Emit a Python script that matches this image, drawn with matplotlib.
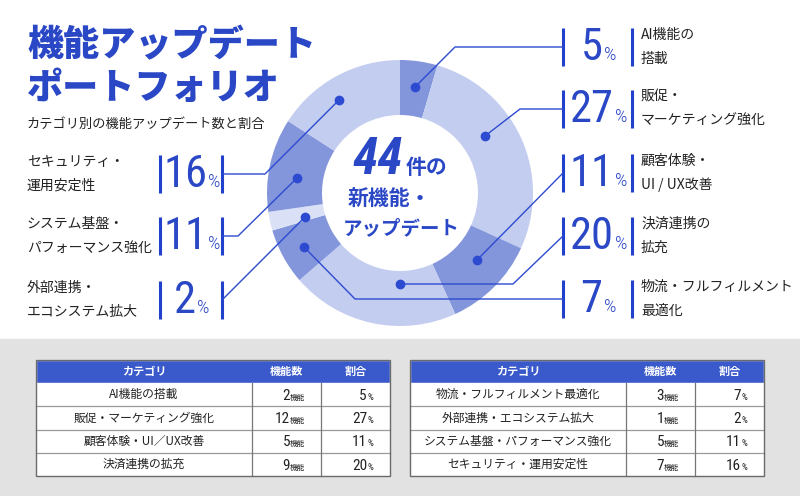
import matplotlib
matplotlib.use('Agg')
import matplotlib.pyplot as plt
from matplotlib.patches import Rectangle
from matplotlib.offsetbox import TextArea, HPacker, AnnotationBbox
from matplotlib import font_manager as fm

plt.rcParams['font.family'] = ['Noto Sans CJK JP', 'DejaVu Sans']

# ---------------- data ----------------
categories = ['AI機能の搭載', '販促・マーケティング強化', '顧客体験・UI／UX改善', '決済連携の拡充',
              '物流・フルフィルメント最適化', '外部連携・エコシステム拡大',
              'システム基盤・パフォーマンス強化', 'セキュリティ・運用安定性']
counts = [2, 12, 5, 9, 3, 1, 5, 7]
shares = [5, 27, 11, 20, 7, 2, 11, 16]
label_top = ['AI機能の', '販促・', '顧客体験・', '決済連携の', '物流・フルフィルメント',
             '外部連携・', 'システム基盤・', 'セキュリティ・']
label_bottom = ['搭載', 'マーケティング強化', 'UI / UX改善', '拡充', '最適化',
                'エコシステム拡大', 'パフォーマンス強化', '運用安定性']
headers = ['カテゴリ', '機能数', '割合']
total = sum(counts)

# ---------------- style ----------------
BLUE = '#2a47c6'
BAR = '#2140cc'
LINE = '#2d4bd0'
DARK = '#8395db'
LIGHT = '#c3cdf0'
PALE = '#dae1f7'
TXT = '#222222'
# narrow face for the numbers (falls back if missing)
names = {f.name for f in fm.fontManager.ttflist}
NUM = next((n for n in ['Roboto Condensed', 'Liberation Sans Narrow', 'Roboto'] if n in names),
           'DejaVu Sans')
seg_colors = [DARK, LIGHT, DARK, LIGHT, DARK, PALE, DARK, LIGHT]

fig = plt.figure(figsize=(8, 4.96), dpi=100)
ax = fig.add_axes([0, 0, 1, 1])

# donut (pixel coordinates, y downwards -> clockwise from top)
ax.pie(counts, colors=seg_colors, startangle=-90, counterclock=True,
       center=(400, 193), radius=133, frame=True,
       wedgeprops=dict(width=55, linewidth=0))
ax.set_xlim(0, 800)
ax.set_ylim(496, 0)
ax.set_aspect('equal')
ax.axis('off')

# grey band for the tables
ax.add_patch(Rectangle((0, 339), 800, 157, color='#e2e2e2', zorder=0))

# titles
ax.text(27, 45, '機能アップデート', fontsize=26, weight='black', color=BLUE, va='center')
ax.text(27, 88, 'ポートフォリオ', fontsize=26, weight='black', color=BLUE, va='center')
ax.text(27, 124, 'カテゴリ別の機能アップデート数と割合', fontsize=9.5, color=TXT, va='center')

# centre text
a = TextArea(str(total), textprops=dict(fontsize=37, weight='bold', style='italic',
                                        color=BLUE, family=NUM))
b = TextArea('件の', textprops=dict(fontsize=15, weight='bold', color=BLUE))
ax.add_artist(AnnotationBbox(HPacker(children=[a, b], align='baseline', pad=0, sep=2),
                             (400, 160), xycoords='data', box_alignment=(0.5, 0.5),
                             frameon=False, pad=0))
ax.text(389, 199, '新機能・', fontsize=15, weight='bold', color=BLUE, ha='center', va='center')
ax.text(401, 229, 'アップデート', fontsize=14, weight='bold', color=BLUE, ha='center', va='center')

# callouts: (index, side, row y, leader path starting at the dot)
callouts = [
    (0, 'R', 47, [(415, 87), (455, 47), (563, 47)]),
    (1, 'R', 109, [(485, 136), (520, 109), (563, 109)]),
    (2, 'R', 173, [(477, 260), (563, 173)]),
    (3, 'R', 236, [(400, 284), (513, 284), (563, 236)]),
    (4, 'R', 299, [(304, 247), (355, 299), (563, 299)]),
    (5, 'L', 300, [(305, 217), (222, 300)]),
    (6, 'L', 236, [(297, 178), (238, 236), (222, 236)]),
    (7, 'L', 174, [(339, 100), (265, 174), (222, 174)]),
]

for i, side, yc, path in callouts:
    xs = [p[0] for p in path]
    ys = [p[1] for p in path]
    ax.plot(xs, ys, color=LINE, lw=1, zorder=3)
    ax.plot(xs[0], ys[0], 'o', ms=6, color=LINE, zorder=4)
    if side == 'R':
        x1, x2, xt = 563, 632, 641
    else:
        x1, x2, xt = 160, 222, 27
    for xb in (x1, x2):
        ax.plot([xb, xb], [yc - 19, yc + 19], color=BAR, lw=2.2, solid_capstyle='butt')
    n = TextArea(str(shares[i]), textprops=dict(fontsize=32, color=BLUE, family=NUM))
    p = TextArea('%', textprops=dict(fontsize=14, weight='light', color=BLUE, family=NUM))
    ax.add_artist(AnnotationBbox(HPacker(children=[n, p], align='baseline', pad=0, sep=1),
                                 ((x1 + x2) / 2 + 1, yc + 1), xycoords='data',
                                 box_alignment=(0.5, 0.5), frameon=False, pad=0))
    ax.text(xt, yc - 12, label_top[i], fontsize=10, color=TXT, va='center')
    ax.text(xt, yc + 12, label_bottom[i], fontsize=10, color=TXT, va='center')

# tables
widths = [216, 69, 69]
HEAD_H, ROW_H, TOP = 23, 23.3, 360


def draw_table(x0, rows):
    edges = [x0, x0 + widths[0], x0 + widths[0] + widths[1], x0 + sum(widths)]
    ax.add_patch(Rectangle((x0, TOP), sum(widths), HEAD_H, fc='#3a5acb', ec='white', lw=1, zorder=2))
    for j, h in enumerate(headers):
        ax.text((edges[j] + edges[j + 1]) / 2, TOP + HEAD_H / 2, h, color='white',
                fontsize=8, weight='bold', ha='center', va='center', zorder=3)
    body_top = TOP + HEAD_H
    ax.add_patch(Rectangle((x0, body_top), sum(widths), ROW_H * len(rows), fc='white',
                           ec='none', zorder=1))
    for r, i in enumerate(rows):
        y = body_top + r * ROW_H
        if r > 0:
            ax.plot([x0, edges[-1]], [y, y], color='#9a9a9a', lw=0.9, zorder=2)
        ym = y + ROW_H / 2
        ax.text((edges[0] + edges[1]) / 2, ym, categories[i], fontsize=8.5, color=TXT,
                ha='center', va='center', zorder=3)
        ax.text(edges[2] - 31, ym + 5, str(counts[i]), fontsize=11, color=TXT, family=NUM,
                ha='right', va='baseline', zorder=3)
        ax.text(edges[2] - 31, ym + 5, '機能', fontsize=5.5, color=TXT,
                ha='left', va='baseline', zorder=3)
        ax.text(edges[3] - 23, ym + 5, str(shares[i]), fontsize=11, color=TXT, family=NUM,
                ha='right', va='baseline', zorder=3)
        ax.text(edges[3] - 23, ym + 5, '%', fontsize=6.5, color=TXT, family=NUM,
                ha='left', va='baseline', zorder=3)
    bottom = body_top + ROW_H * len(rows)
    for xe in edges[1:-1]:
        ax.plot([xe, xe], [body_top, bottom], color='#777777', lw=0.9, zorder=2)
    ax.add_patch(Rectangle((x0, TOP), sum(widths), bottom - TOP, fc='none',
                           ec='#6a6a6a', lw=1, zorder=4))


draw_table(36, [0, 1, 2, 3])
draw_table(410, [4, 5, 6, 7])

fig.savefig('out.png', dpi=100)
